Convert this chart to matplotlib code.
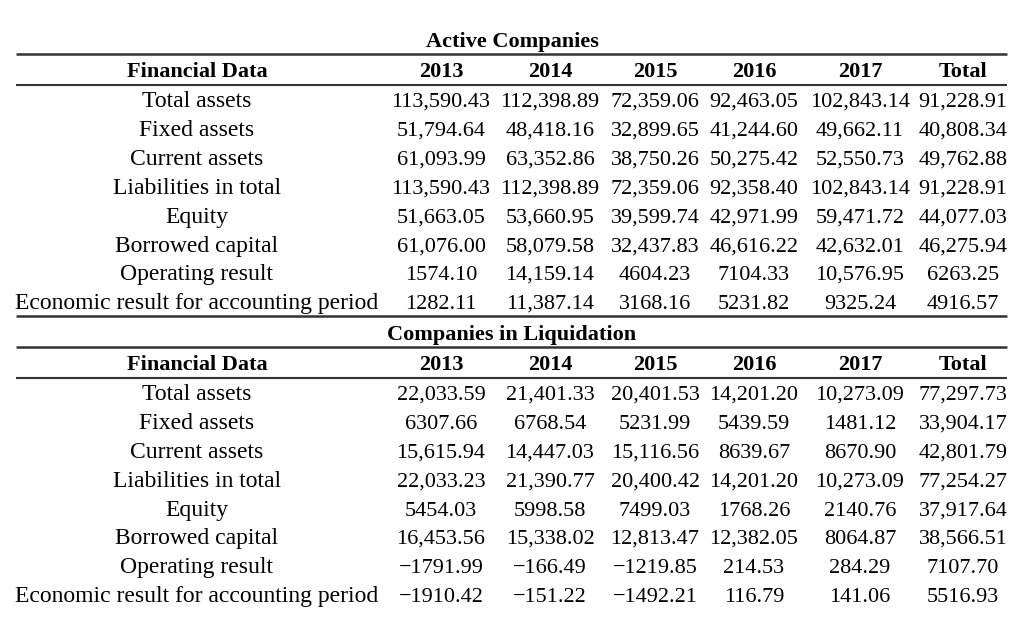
import matplotlib
matplotlib.use("Agg")
import matplotlib.pyplot as plt

plt.rcParams['font.family'] = ['Liberation Serif', 'DejaVu Serif']

row_labels = ["Total assets", "Fixed assets", "Current assets", "Liabilities in total",
              "Equity", "Borrowed capital", "Operating result",
              "Economic result for accounting period"]
col_headers = ["Financial Data", "2013", "2014", "2015", "2016", "2017", "Total"]

# Active companies: rows x (2013..2017, Total)
active = [
    [113590.43, 112398.89, 72359.06, 92463.05, 102843.14, 91228.91],
    [51794.64, 48418.16, 32899.65, 41244.60, 49662.11, 40808.34],
    [61093.99, 63352.86, 38750.26, 50275.42, 52550.73, 49762.88],
    [113590.43, 112398.89, 72359.06, 92358.40, 102843.14, 91228.91],
    [51663.05, 53660.95, 39599.74, 42971.99, 59471.72, 44077.03],
    [61076.00, 58079.58, 32437.83, 46616.22, 42632.01, 46275.94],
    [1574.10, 14159.14, 4604.23, 7104.33, 10576.95, 6263.25],
    [1282.11, 11387.14, 3168.16, 5231.82, 9325.24, 4916.57],
]

# Companies in liquidation
liquidation = [
    [22033.59, 21401.33, 20401.53, 14201.20, 10273.09, 77297.73],
    [6307.66, 6768.54, 5231.99, 5439.59, 1481.12, 33904.17],
    [15615.94, 14447.03, 15116.56, 8639.67, 8670.90, 42801.79],
    [22033.23, 21390.77, 20400.42, 14201.20, 10273.09, 77254.27],
    [5454.03, 5998.58, 7499.03, 1768.26, 2140.76, 37917.64],
    [16453.56, 15338.02, 12813.47, 12382.05, 8064.87, 38566.51],
    [-1791.99, -166.49, -1219.85, 214.53, 284.29, 7107.70],
    [-1910.42, -151.22, -1492.21, 116.79, 141.06, 5516.93],
]

sections = [("Active Companies", active), ("Companies in Liquidation", liquidation)]


def fmt(v):
    s = f"{v:,.2f}" if abs(v) >= 10000 else f"{v:.2f}"
    return s.replace('-', '\u2212')


# layout (axes units = pixels)
col_x = [197, 441, 550, 655, 754, 860, 963]
x_left, x_right = 16, 1007
fs = 16
fs_lab = 17
row_step = 28.9
base = 7  # baseline sits this far below the visual centre

fig = plt.figure(figsize=(10.24, 6.4), dpi=100)
ax = fig.add_axes([0, 0, 1, 1])
ax.set_xlim(0, 1024)
ax.set_ylim(640, 0)
ax.axis('off')

tops = [40, 333]
for (title, data), y0 in zip(sections, tops):
    ax.text(512, y0 + base, title, ha='center', va='baseline', fontsize=fs, fontweight='bold')
    ax.hlines(y0 + 14, x_left, x_right, color='#333333', lw=1.8)
    yh = y0 + 30
    for x, h in zip(col_x, col_headers):
        ax.text(x, yh + base, h, ha='center', va='baseline', fontsize=fs, fontweight='bold')
    ax.hlines(yh + 15, x_left, x_right, color='#333333', lw=1.5)
    for i, (lab, vals) in enumerate(zip(row_labels, data)):
        # whole-pixel baselines keep every cell of a row on the same line
        y = round(yh + 30 + i * row_step + base)
        ax.text(col_x[0], y, lab, ha='center', va='baseline', fontsize=fs_lab)
        for x, v in zip(col_x[1:], vals):
            ax.text(x, y, fmt(v), ha='center', va='baseline', fontsize=fs)

# closing rule of the first block
ax.hlines(316, x_left, x_right, color='#333333', lw=1.8)

fig.savefig("out.png", dpi=100, facecolor='white')
